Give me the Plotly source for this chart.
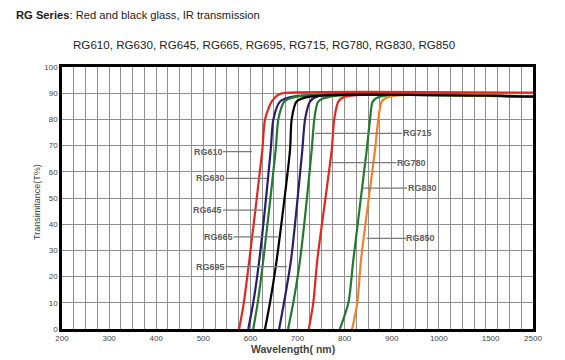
import plotly.graph_objects as go

# ---------------- data (wavelength nm, transmittance %) ----------------
names = ["RG610", "RG630", "RG645", "RG665", "RG695", "RG715", "RG780", "RG830", "RG850"]
colors = ["#e3261e", "#2b1d6b", "#23792f", "#000000", "#2b1d6b", "#23792f", "#e3261e", "#23792f", "#f0812a"]

wl_RG610 = [576, 586, 597.7, 625.3, 631, 645, 660, 680, 2500]
tr_RG610 = [0, 10, 26.3, 68.3, 80, 86.8, 89.5, 90.2, 90.2]
wl_RG630 = [595.5, 606, 618.9, 643.1, 648.7, 663, 691, 2500]
tr_RG630 = [0, 10, 26.3, 68.3, 80, 86.8, 88.7, 88.7]
wl_RG645 = [606, 615.5, 627.4, 653.7, 659.3, 672, 698, 2500]
tr_RG645 = [0, 10, 26.3, 68.3, 80, 86.8, 88.7, 88.7]
wl_RG665 = [631, 641.6, 655.8, 684.1, 687.6, 698, 726, 2500]
tr_RG665 = [0, 10, 26.3, 68.3, 80, 86.8, 88.7, 88.7]
wl_RG695 = [661, 671.3, 686.2, 710.2, 716, 726.5, 741, 2500]
tr_RG695 = [0, 10, 26.3, 68.3, 80, 86.8, 88.7, 88.7]
wl_RG715 = [680, 691, 705.3, 730.1, 735.7, 744, 769, 2500]
tr_RG715 = [0, 10, 26.3, 68.3, 80, 86.8, 88.7, 88.7]
wl_RG780 = [724, 733.5, 742, 772.6, 778, 786.6, 801, 2500]
tr_RG780 = [0, 10, 26.3, 68.3, 80, 86.8, 88.7, 88.7]
wl_RG830 = [790, 808, 818.5, 846.9, 854, 859.6, 875, 2500]
tr_RG830 = [0, 10, 26.3, 68.3, 80, 86.8, 88.7, 88.7]
wl_RG850 = [816, 827, 834.8, 864.5, 871.6, 878.8, 895, 2500]
tr_RG850 = [0, 10, 26.3, 68.3, 80, 86.8, 88.7, 88.7]

x_tick_labels = [200, 300, 400, 500, 600, 700, 800, 900, 1000, 1500, 2500]
y_tick_labels = [0, 10, 20, 30, 40, 50, 60, 70, 80, 90, 100]

# label anchors on curves (nm, %), and text offsets
label_anchor_wl = [603.4, 635.2, 624.6, 658.6, 677.7, 737.2, 772.6, 839.1, 846.9]
label_anchor_tr = [67.7, 57.5, 45.4, 35.2, 23.8, 74.7, 63.5, 53.8, 34.6]
label_dx = [-44, -56.5, -54, -59.5, -76.5, 102, 79.8, 59, 54.3]

series_wl = [wl_RG610, wl_RG630, wl_RG645, wl_RG665, wl_RG695, wl_RG715, wl_RG780, wl_RG830, wl_RG850]
series_tr = [tr_RG610, tr_RG630, tr_RG645, tr_RG665, tr_RG695, tr_RG715, tr_RG780, tr_RG830, tr_RG850]


# piecewise axis scale of the original chart (200-1000 linear, then compressed)
def pos(nm):
    if nm <= 1000:
        return (nm - 200) / 100.0
    if nm <= 1500:
        return 8 + (nm - 1000) / 500.0 * 1.1
    return 9.1 + (nm - 1500) / 1000.0 * 0.9


fig = go.Figure()
order = [0, 1, 2, 4, 5, 6, 7, 8, 3]  # black drawn last (on top of plateau)
for i in order:
    fig.add_trace(go.Scatter(
        x=[pos(v) for v in series_wl[i]], y=series_tr[i], mode="lines", name=names[i],
        line=dict(color=colors[i], width=2.2, shape="spline", smoothing=0.7),
        showlegend=False, hoverinfo="skip"))

for i, n in enumerate(names):
    fig.add_annotation(
        x=pos(label_anchor_wl[i]), y=label_anchor_tr[i], xref="x", yref="y",
        text="<b>%s</b>" % n, showarrow=True, arrowhead=0, arrowwidth=1.2,
        arrowcolor="#7a7a7a", ax=label_dx[i], ay=0, standoff=0, borderpad=0,
        font=dict(family="Liberation Sans, Arial", size=9, color="#5e5e5e"))

# titles
fig.add_annotation(x=-0.102, y=1.198, xref="paper", yref="paper", xanchor="left", yanchor="middle",
                   text="<b>RG Series</b>: Red and black glass, IR transmission", showarrow=False,
                   font=dict(family="Liberation Sans, Arial", size=11.2, color="#222"))
fig.add_annotation(x=0.429, y=1.084, xref="paper", yref="paper", xanchor="center", yanchor="middle",
                   text=", ".join(names), showarrow=False,
                   font=dict(family="Liberation Sans, Arial", size=11.6, color="#222"))
fig.add_annotation(x=-0.053, y=0.485, xref="paper", yref="paper", xanchor="center", yanchor="middle",
                   text="Transimitance(T%)", textangle=-90, showarrow=False,
                   font=dict(family="Liberation Sans, Arial", size=9, color="#444"))
fig.add_annotation(x=0.49, y=-0.078, xref="paper", yref="paper", xanchor="center", yanchor="middle",
                   text="<b>Wavelength( nm)</b>", showarrow=False,
                   font=dict(family="Liberation Sans, Arial", size=10.5, color="#444"))

grid_c = "#8f8f8f"
fig.update_layout(
    width=557, height=352,
    margin=dict(l=54, r=32, t=59, b=31),
    paper_bgcolor="white", plot_bgcolor="white",
    xaxis=dict(range=[0, 10], tickmode="array",
               tickvals=[pos(v) for v in x_tick_labels], ticktext=[str(v) for v in x_tick_labels],
               showgrid=False, zeroline=False, showline=True, linecolor="black", linewidth=2.5,
               mirror=True, ticks="", tickfont=dict(family="Liberation Sans, Arial", size=8, color="#444"),
               minor=dict(tickmode="linear", tick0=0, dtick=0.25, showgrid=True,
                          gridcolor=grid_c, gridwidth=1.3, ticks="")),
    yaxis=dict(range=[0, 100], tickmode="array", tickvals=y_tick_labels,
               ticktext=[str(v) for v in y_tick_labels],
               showgrid=True, gridcolor=grid_c, gridwidth=1.3, zeroline=False,
               showline=True, linecolor="black", linewidth=2.5, mirror=True, ticks="",
               tickfont=dict(family="Liberation Sans, Arial", size=8, color="#444")),
)

fig.write_html("out.html")
